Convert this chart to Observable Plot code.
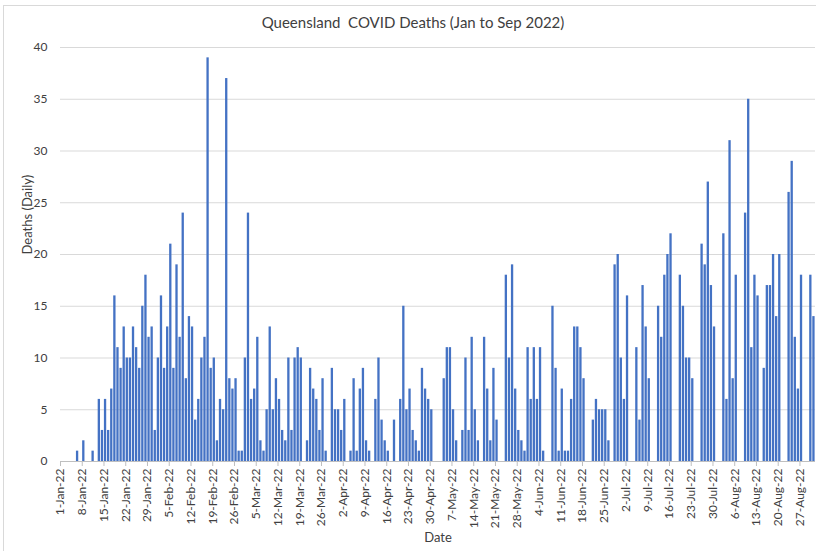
<!DOCTYPE html>
<html>
<head>
<meta charset="utf-8">
<script src="https://cdn.jsdelivr.net/npm/d3@7"></script>
<script src="https://cdn.jsdelivr.net/npm/@observablehq/plot@0.6"></script>
<style>
  html, body { margin: 0; padding: 0; background: #fff; }
  #wrap { position: relative; width: 816px; height: 551px; overflow: hidden; font-family: Lato, "Open Sans", sans-serif; }
  #frame { position: absolute; left: 3px; top: 5px; width: 830px; height: 560px; border: 1px solid #d9d9d9; box-sizing: border-box; }
  #title { position: relative; height: 37px; line-height: 44px; text-align: center; font-size: 15px; color: #404040; padding-left: 10px; box-sizing: border-box; }
  #chart { position: relative; }
</style>
</head>
<body>
<div id="wrap">
  <div id="frame"></div>
  <div id="title">Queensland&nbsp; COVID Deaths (Jan to Sep 2022)</div>
  <div id="chart"></div>
</div>
<script>
// Data: daily deaths starting 1-Jan-2022 (one value per day, through 31-Aug-2022)
const startDate = "2022-01-01";
const endDate = "2022-09-01";
const deaths = [
  0,0,0,0,0,1,0,2,0,0, 1,0,6,3,6,3,7,16,11,9,
  13,10,10,13,11,9,15,18,12,13, 3,10,16,9,13,21,9,19,12,24,
  8,14,13,4,6,10,12,39,9,10, 2,6,5,37,8,7,8,1,1,10,
  24,6,7,12,2,1,5,13,5,8, 6,3,2,10,3,10,11,10,0,2,
  9,7,6,3,8,1,0,9,5,5, 3,6,0,1,8,1,7,9,2,1,
  0,6,10,4,2,1,0,4,0,6, 15,5,7,3,2,1,9,7,6,5,
  0,0,0,8,11,11,5,2,0,3, 10,3,12,5,2,0,12,7,2,9,
  4,0,0,18,10,19,7,3,2,1, 11,6,11,6,11,1,0,0,15,9,
  1,7,1,1,6,13,13,11,8,0, 0,4,6,5,5,5,2,0,19,20,
  10,6,16,0,0,11,4,17,13,8, 0,0,15,12,18,20,22,0,0,18,
  15,10,10,8,0,0,21,19,27,17, 13,0,0,22,6,31,8,18,0,0,
  24,35,11,18,16,0,9,17,17,20, 14,20,0,0,26,29,12,7,18,0,
  0,18,14
];
const yTicks = [0, 5, 10, 15, 20, 25, 30, 35, 40];
const tickStepDays = 7;
const xLabel = "Date";
const yLabel = "Deaths (Daily)";

const t0 = new Date(startDate + "T00:00:00Z");
const t1 = new Date(endDate + "T00:00:00Z");
const rows = deaths.map((v, i) => ({date: d3.utcDay.offset(t0, i), deaths: v}));
const xTicks = d3.utcDay.range(t0, t1, tickStepDays);

const chart = Plot.plot({
  width: 816,
  height: 514,
  marginLeft: 60,
  marginRight: 1,
  marginTop: 10,
  marginBottom: 90,
  style: {fontFamily: "Lato, 'Open Sans', sans-serif", fontSize: "12px", color: "#595959", background: "transparent"},
  x: {type: "utc", domain: [t0, t1]},
  y: {domain: [0, 40]},
  marks: [
    Plot.gridY(yTicks, {stroke: "#d9d9d9", strokeOpacity: 1}),
    Plot.rectY(rows, {
      x1: "date",
      x2: d => d3.utcDay.offset(d.date, 1),
      y: "deaths",
      fill: "#4472C4",
      insetLeft: 0.4,
      insetRight: 0.4
    }),
    Plot.ruleY([0], {stroke: "#bfbfbf"}),
    Plot.axisX({
      ticks: xTicks,
      tickFormat: d3.utcFormat("%-d-%b-%y"),
      tickRotate: -90,
      tickSize: 5,
      tickPadding: 2,
      stroke: "#bfbfbf",
      fill: "#404040",
      fontSize: 12,
      label: null
    }),
    Plot.axisY({
      ticks: yTicks,
      tickSize: 0,
      tickPadding: 13,
      fill: "#404040",
      fontSize: 12,
      label: null
    }),
    Plot.text([xLabel], {frameAnchor: "bottom", dy: 80, fill: "#404040", fontSize: 13}),
    Plot.text([yLabel], {frameAnchor: "left", dx: -33, rotate: -90, fill: "#404040", fontSize: 13})
  ]
});
document.getElementById("chart").appendChild(chart);
</script>
</body>
</html>
